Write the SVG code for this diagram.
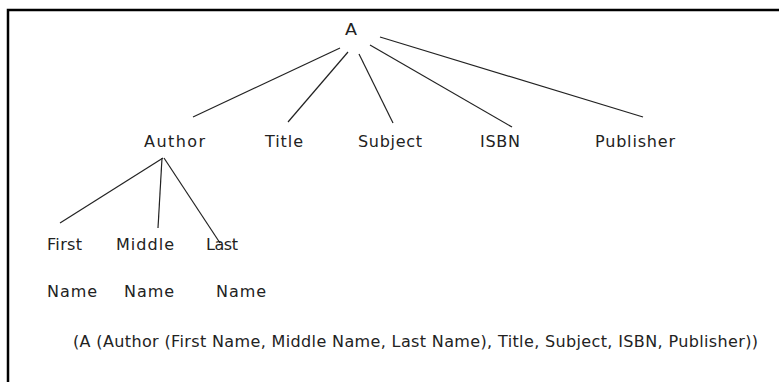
<svg xmlns="http://www.w3.org/2000/svg" width="779" height="382" viewBox="0 0 779 382">
  <style>
    .lbl { font-family: "DejaVu Sans", "Liberation Sans", sans-serif; font-size: 16px; fill: #222; }
    .edge { stroke: #222; stroke-width: 1.2; fill: none; }
    .frame { stroke: #000; stroke-width: 2.5; fill: none; }
  </style>
  <rect width="779" height="382" fill="#fff"/>
  <!-- frame: top and left edges -->
  <path class="frame" d="M8 382 V10 H779"/>

  <g id="connectors">
    <line class="edge" x1="340" y1="48" x2="193" y2="117"/>
    <line class="edge" x1="348" y1="52" x2="288" y2="122"/>
    <line class="edge" x1="359" y1="54" x2="393" y2="123"/>
    <line class="edge" x1="370" y1="45" x2="512" y2="127"/>
    <line class="edge" x1="380" y1="37" x2="643" y2="117"/>
    <line class="edge" x1="163" y1="158" x2="60" y2="223"/>
    <line class="edge" x1="162" y1="158" x2="158" y2="228"/>
    <line class="edge" x1="164" y1="158" x2="220" y2="243"/>
  </g>

  <g id="node-a"><text class="lbl" x="345" y="35" textLength="12" lengthAdjust="spacingAndGlyphs">A</text></g>
  <g id="node-author"><text class="lbl" x="144" y="147" textLength="61">Author</text></g>
  <g id="node-title"><text class="lbl" x="265" y="147" textLength="38">Title</text></g>
  <g id="node-subject"><text class="lbl" x="358" y="147" textLength="64">Subject</text></g>
  <g id="node-isbn"><text class="lbl" x="480" y="147" textLength="40">ISBN</text></g>
  <g id="node-publisher"><text class="lbl" x="595" y="147" textLength="80">Publisher</text></g>
  <g id="node-first">
    <text class="lbl" x="47" y="250" textLength="35">First</text>
    <text class="lbl" x="47" y="297" textLength="50">Name</text>
  </g>
  <g id="node-middle">
    <text class="lbl" x="116" y="250" textLength="58">Middle</text>
    <text class="lbl" x="124" y="297" textLength="50">Name</text>
  </g>
  <g id="node-last">
    <text class="lbl" x="206" y="250" textLength="32">Last</text>
    <text class="lbl" x="216" y="297" textLength="50">Name</text>
  </g>
  <g id="expression">
    <text class="lbl" x="73" y="347" textLength="685">(A (Author (First Name, Middle Name, Last Name), Title, Subject, ISBN, Publisher))</text>
  </g>
</svg>
